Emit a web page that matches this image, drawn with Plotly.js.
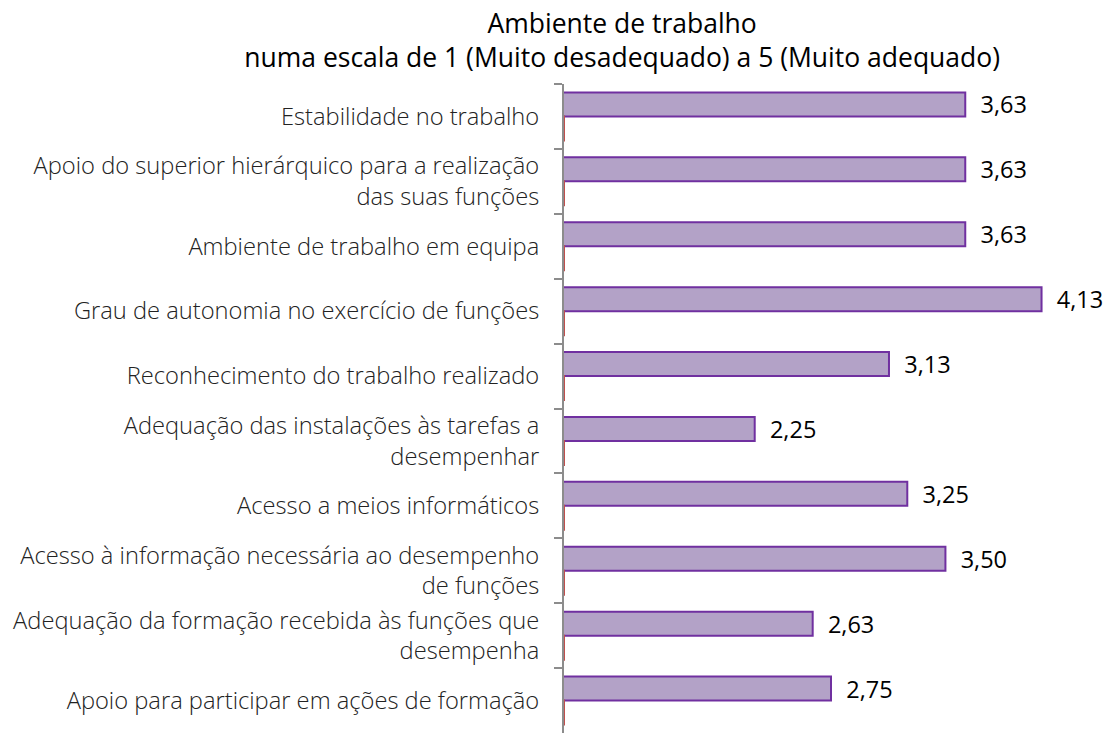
<!DOCTYPE html>
<html>
<head>
<meta charset="utf-8">
<script src="https://cdn.plot.ly/plotly-3.0.1.min.js"></script>
<style>html,body{margin:0;padding:0;background:#fff;}</style>
</head>
<body>
<div id="chart" style="width:1109px;height:733px;"></div>
<script>
const categories = [
  "Estabilidade no trabalho",
  "Apoio do superior hierárquico para a realização<br>das suas funções",
  "Ambiente de trabalho em equipa",
  "Grau de autonomia no exercício de funções",
  "Reconhecimento do trabalho realizado",
  "Adequação das instalações às tarefas a<br>desempenhar",
  "Acesso a meios informáticos",
  "Acesso à informação necessária ao desempenho<br>de funções",
  "Adequação da formação recebida às funções que<br>desempenha",
  "Apoio para participar em ações de formação"
];
const scores = [3.63, 3.63, 3.63, 4.13, 3.13, 2.25, 3.25, 3.50, 2.63, 2.75];
const secondSeries = [1, 1, 1, 1, 1, 1, 1, 1, 1, 1];

const traces = [
  {
    type: 'bar', orientation: 'h',
    y: categories, x: scores,
    marker: {color: '#b3a2c7', line: {color: '#7030a0', width: 2}},
    texttemplate: '\u00a0\u00a0%{x:.2f}',
    textposition: 'outside',
    constraintext: 'none',
    cliponaxis: false,
    textfont: {family: '"Open Sans", sans-serif', size: 23.5, color: '#000'},
    hoverinfo: 'skip'
  },
  {
    type: 'bar', orientation: 'h',
    y: categories, x: secondSeries,
    marker: {color: 'rgba(0,0,0,0)', line: {color: '#c0504d', width: 2}},
    hoverinfo: 'skip'
  }
];

const layout = {
  width: 1109, height: 733,
  margin: {l: 564, r: 11, t: 84, b: 0},
  paper_bgcolor: '#fff', plot_bgcolor: '#fff',
  showlegend: false,
  separators: ', ',
  barmode: 'group', bargap: 0.26, bargroupgap: 0,
  title: {
    text: 'Ambiente de trabalho<br>numa escala de 1 (Muito desadequado) a 5 (Muito adequado)',
    x: 0.561, xref: 'container', xanchor: 'center',
    y: 0.955, yref: 'container', yanchor: 'middle',
    font: {family: '"Open Sans", sans-serif', size: 26.5, color: '#000'}
  },
  xaxis: {
    range: [1, 4.5], showgrid: false, zeroline: false,
    showticklabels: false, showline: false, ticks: ''
  },
  yaxis: {
    type: 'category', autorange: 'reversed',
    showline: true, linecolor: '#8c8c8c', linewidth: 2,
    ticks: 'outside', ticklen: 8, tickcolor: '#8c8c8c', tickwidth: 2,
    tickson: 'boundaries', ticklabelstandoff: 18,
    showgrid: false, zeroline: false,
    tickfont: {family: '"Open Sans", sans-serif', size: 23.7, color: '#222', weight: 300}
  },
  hovermode: false
};

Plotly.newPlot('chart', traces, layout, {displayModeBar: false, staticPlot: true});
</script>
</body>
</html>
